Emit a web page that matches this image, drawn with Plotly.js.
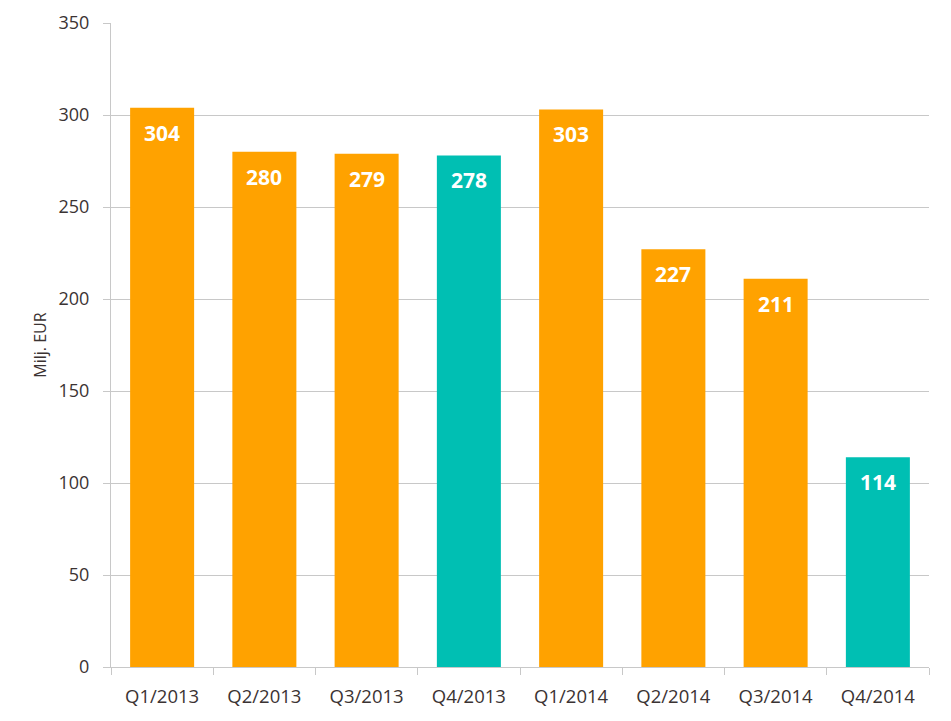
<!DOCTYPE html>
<html>
<head>
<meta charset="utf-8">
<script src="https://cdn.plot.ly/plotly-3.0.1.min.js"></script>
<style>
  html, body { margin: 0; padding: 0; background: #fff; }
  #chart { width: 951px; height: 721px; }
</style>
</head>
<body>
<div id="chart"></div>
<script>
// Quarterly values (Milj. EUR)
const quarters = ['Q1/2013', 'Q2/2013', 'Q3/2013', 'Q4/2013', 'Q1/2014', 'Q2/2014', 'Q3/2014', 'Q4/2014'];
const values = [304, 280, 279, 278, 303, 227, 211, 114];
const highlight = [false, false, false, true, false, false, false, true];

const ORANGE = '#FFA200';
const TEAL = '#00BFB3';
const TEXT = '#3b3333';
const GRID = '#c8c8c8';
const FONT = 'Open Sans, Liberation Sans, sans-serif';

const colors = highlight.map(h => h ? TEAL : ORANGE);

const data = [{
    x: quarters,
    y: values,
    type: 'bar',
    marker: { color: colors },
    hoverinfo: 'x+y'
}];

// Value labels sit inside the top of each bar
const labels = quarters.map((q, i) => ({
    x: q,
    y: values[i],
    yref: 'y',
    text: '<b>' + values[i] + '</b>',
    showarrow: false,
    yshift: -25,
    font: { family: FONT, size: 21, color: '#ffffff' }
}));

const layout = {
    width: 951,
    height: 721,
    margin: { l: 111, r: 22, t: 23, b: 54 },
    paper_bgcolor: '#ffffff',
    plot_bgcolor: '#ffffff',
    bargap: 0.374,
    showlegend: false,
    font: { family: FONT, color: TEXT, size: 18 },
    xaxis: {
        type: 'category',
        showline: true,
        linecolor: GRID,
        linewidth: 1,
        ticks: 'outside',
        tickson: 'boundaries',
        ticklen: 7,
        tickcolor: GRID,
        ticklabelstandoff: 13,
        tickfont: { family: FONT, size: 18.5, color: TEXT }
    },
    yaxis: {
        range: [0, 350],
        dtick: 50,
        showgrid: true,
        gridcolor: GRID,
        zeroline: false,
        showline: true,
        linecolor: GRID,
        ticks: 'outside',
        ticklen: 7,
        tickcolor: GRID,
        ticklabelstandoff: 10,
        tickfont: { family: FONT, size: 18, color: TEXT },
        title: {
            text: 'Milj. EUR',
            font: { family: FONT, size: 16, color: TEXT },
            standoff: 7
        }
    },
    annotations: labels
};

Plotly.newPlot('chart', data, layout, { displayModeBar: false, staticPlot: true });
</script>
</body>
</html>
